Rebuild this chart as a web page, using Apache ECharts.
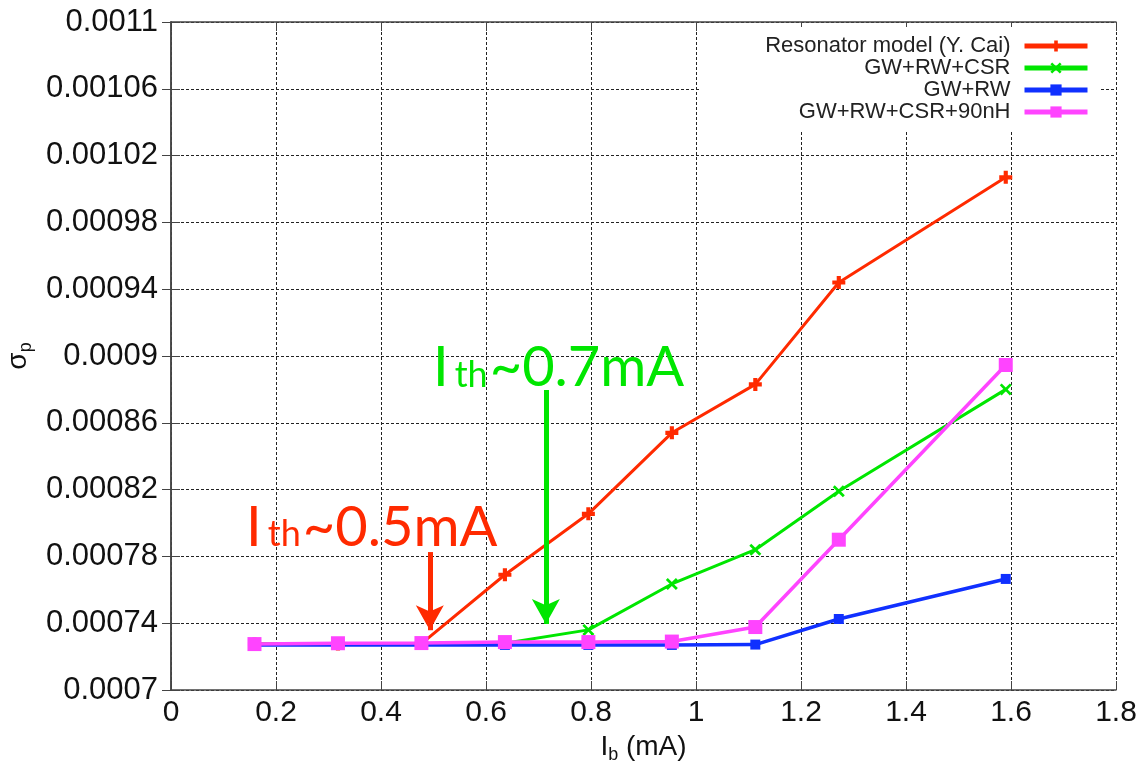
<!DOCTYPE html>
<html><head><meta charset="utf-8">
<script src="https://cdn.jsdelivr.net/npm/echarts@6/dist/echarts.min.js"></script>
<style>html,body{margin:0;padding:0;background:#fff}#c{width:1146px;height:764px}</style>
</head><body><div id="c"></div>
<script>
// ---- data ----
const currents = [0.159, 0.318, 0.477, 0.636, 0.795, 0.954, 1.113, 1.272, 1.59];
const resonator = [0.0007275, 0.0007276, 0.0007278, 0.000769, 0.0008055, 0.000854, 0.000883, 0.000944, 0.001007];
const gwRwCsr = [0.0007275, 0.0007276, 0.0007278, 0.000728, 0.000736, 0.0007635, 0.000784, 0.000819, 0.00088];
const gwRw = [0.000727, 0.000727, 0.000727, 0.000727, 0.000727, 0.000727, 0.0007272, 0.0007425, 0.0007665];
const gwRwCsr90 = [0.0007275, 0.000728, 0.0007281, 0.0007287, 0.0007287, 0.000729, 0.0007377, 0.00079, 0.0008946];
const seriesNames = ['Resonator model (Y. Cai)', 'GW+RW+CSR', 'GW+RW', 'GW+RW+CSR+90nH'];
const xMin = 0, xMax = 1.8, xStep = 0.2;
const yMin = 0.0007, yMax = 0.0011, yStep = 0.00004;
const thresholdLabels = ['~0.5mA', '~0.7mA'];
const thresholdArrowX = [0.493, 0.714];
const thresholdArrowFrom = [0.0007826, 0.0008796];
const thresholdArrowTo = [0.0007358, 0.0007395];
const thresholdTextX = [0.143, 0.499];
const thresholdTextY = [0.0007805, 0.000876];

// ---- styling ----
const colors = ['#ff2a00', '#00e600', '#1030ff', '#ff44ff'];
const symbols = [
  'path://M3.4,0H6.6V3.4H10V6.6H6.6V10H3.4V6.6H0V3.4H3.4Z',
  'path://M1.6,0L5,3.4L8.4,0L10,1.6L6.6,5L10,8.4L8.4,10L5,6.6L1.6,10L0,8.4L3.4,5L0,1.6Z',
  'rect', 'rect'
];
const symbolSizes = [13, 12, 10, 14];
const lineWidths = [3, 3, 3.5, 3.5];
const seriesData = [resonator, gwRwCsr, gwRw, gwRwCsr90];
const tickFont = 'Liberation Sans';
const annFont = 'Lato';

const chart = echarts.init(document.getElementById('c'), null, {renderer: 'canvas'});

const gridLine = {show: true, lineStyle: {color: '#222', width: 1, type: [3, 2]}};
const axisLine = {show: true, lineStyle: {color: '#444', width: 1.5}};
const tick = {show: true, inside: true, length: 9, lineStyle: {color: '#444', width: 1}};

const series = seriesNames.map((n, i) => ({
  name: n,
  type: 'line',
  data: currents.map((x, k) => [x, seriesData[i][k]]),
  symbol: symbols[i],
  symbolSize: symbolSizes[i],
  showAllSymbol: true,
  color: colors[i],
  lineStyle: {color: colors[i], width: lineWidths[i]},
  itemStyle: {color: colors[i]},
  animation: false
}));

[0, 1].forEach(j => {
  series[j].markLine = {
    silent: true,
    animation: false,
    symbol: ['none', 'arrow'],
    symbolSize: [21, 25],
    label: {show: false},
    lineStyle: {color: colors[j], width: 5, type: 'solid'},
    emphasis: {disabled: true},
    data: [[{coord: [thresholdArrowX[j], thresholdArrowFrom[j]]}, {coord: [thresholdArrowX[j], thresholdArrowTo[j]]}]]
  };
});

const fmtY = v => String(parseFloat(v.toPrecision(6)));

chart.setOption({
  animation: false,
  backgroundColor: '#fff',
  grid: {left: 171, right: 30, top: 22, bottom: 74, show: false, containLabel: false, outerBoundsMode: 'none'},
  legend: {
    orient: 'vertical',
    right: 46,
    top: 27,
    align: 'right',
    itemWidth: 63,
    itemHeight: 14,
    itemGap: 0,
    padding: [8, 10, 8, 66],
    backgroundColor: '#fff',
    lineStyle: {width: 5},
    formatter: n => '{t|' + n + '}',
    textStyle: {
      fontFamily: tickFont, fontSize: 22, color: '#222',
      rich: {t: {fontFamily: tickFont, fontSize: 22, color: '#222', lineHeight: 22, padding: [0, 9, 0, 0]}}
    },
    data: seriesNames
  },
  xAxis: [{
    type: 'value', min: xMin, max: xMax, interval: xStep,
    axisLine: axisLine, axisTick: tick, splitLine: gridLine,
    axisLabel: {fontFamily: tickFont, fontSize: 30, color: '#111', margin: 8},
    name: '{m|I}{s|b}{m| (mA)}', nameLocation: 'middle', nameGap: 40,
    nameTextStyle: {
      rich: {
        m: {fontFamily: tickFont, fontSize: 28, color: '#111', lineHeight: 34, verticalAlign: 'middle'},
        s: {fontFamily: tickFont, fontSize: 18, color: '#111', lineHeight: 18, verticalAlign: 'bottom'}
      }
    }
  }, {
    type: 'value', position: 'top', min: xMin, max: xMax, interval: xStep,
    axisLine: axisLine, axisTick: tick, splitLine: {show: false}, axisLabel: {show: false}
  }],
  yAxis: [{
    type: 'value', min: yMin, max: yMax, interval: yStep,
    axisLine: axisLine, axisTick: tick, splitLine: gridLine,
    axisLabel: {fontFamily: tickFont, fontSize: 31, color: '#111', margin: 13, formatter: fmtY},
    name: '{m|σ}{s|p}', nameLocation: 'middle', nameGap: 131, nameRotate: 90,
    nameTextStyle: {
      rich: {
        m: {fontFamily: tickFont, fontSize: 28, color: '#111', lineHeight: 34, verticalAlign: 'middle'},
        s: {fontFamily: tickFont, fontSize: 18, color: '#111', lineHeight: 18, verticalAlign: 'bottom'}
      }
    }
  }, {
    type: 'value', position: 'right', min: yMin, max: yMax, interval: yStep,
    axisLine: axisLine, axisTick: tick, splitLine: {show: false}, axisLabel: {show: false}
  }],
  series: series
});

const graphics = thresholdLabels.map((lab, j) => {
  const p = chart.convertToPixel({xAxisIndex: 0, yAxisIndex: 0}, [thresholdTextX[j], thresholdTextY[j]]);
  return {
    type: 'text', x: p[0], y: p[1], z: 100, silent: true,
    style: {
      text: '{b|I}{s|th}{b|' + lab + '}',
      align: 'left', verticalAlign: 'bottom',
      rich: {
        b: {fontFamily: annFont, fontSize: 56, lineHeight: 56, fill: colors[j], verticalAlign: 'bottom'},
        s: {fontFamily: annFont, fontSize: 36, lineHeight: 36, fill: colors[j], verticalAlign: 'bottom', padding: [0, 2, 3, 6]}
      }
    }
  };
});
chart.setOption({graphic: graphics});
</script>
</body></html>
